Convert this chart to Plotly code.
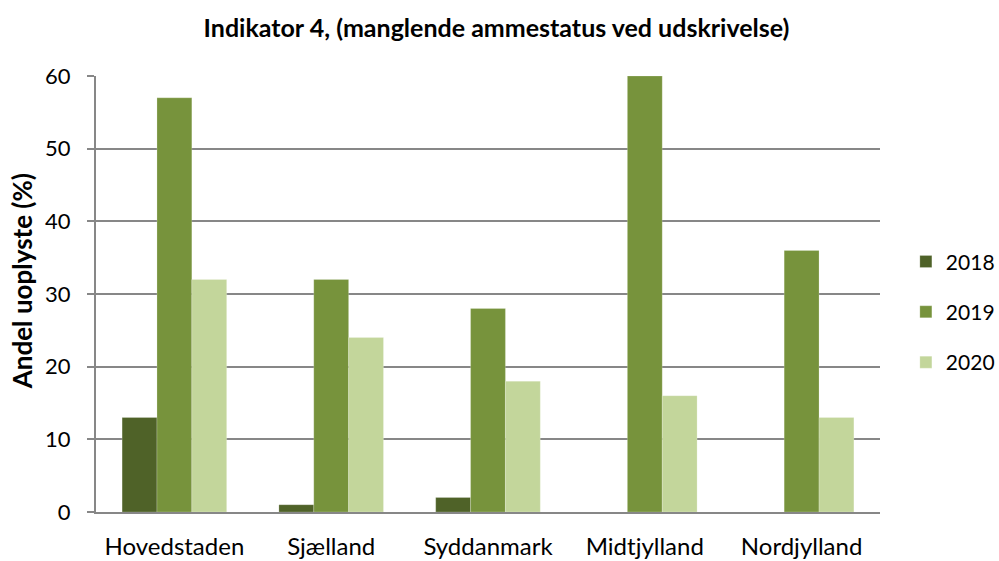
import plotly.graph_objects as go

regions = ["Hovedstaden", "Sjælland", "Syddanmark", "Midtjylland", "Nordjylland"]
years = ["2018", "2019", "2020"]
values_2018 = [13, 1, 2, 0, 0]
values_2019 = [57, 32, 28, 60, 36]
values_2020 = [32, 24, 18, 16, 13]
y_ticks = [0, 10, 20, 30, 40, 50, 60]

colors = ["#4F6228", "#77933C", "#C3D69B"]
series = [values_2018, values_2019, values_2020]

fig = go.Figure()
for year, vals, col in zip(years, series, colors):
    fig.add_trace(go.Bar(
        x=regions, y=vals, name=year, legendgroup=year,
        marker=dict(color=col, line=dict(color="rgba(255,255,255,0.35)", width=0.6)),
    ))

font = "Lato, 'Open Sans', sans-serif"
grid = "#878787"

fig.update_layout(
    width=999, height=561,
    margin=dict(l=96, r=119, t=76, b=49, autoexpand=False),
    paper_bgcolor="white", plot_bgcolor="white",
    barmode="group", bargap=0.333, bargroupgap=0,
    font=dict(family=font, color="black"),
    title=dict(text="<b>Indikator 4, (manglende ammestatus ved udskrivelse)</b>",
               x=0.497, xanchor="center", y=0.95, yanchor="middle",
               font=dict(size=25, family=font, color="black")),
    showlegend=True,
    legend=dict(x=1.033, xanchor="left", y=0.459, yanchor="middle",
                font=dict(size=21, family=font), tracegroupgap=20,
                itemwidth=30, bgcolor="rgba(0,0,0,0)"),
    xaxis=dict(showline=True, linecolor=grid, linewidth=2,
               tickfont=dict(size=24, family=font), ticks="", ticklen=0,
               ticklabelstandoff=12),
    yaxis=dict(range=[0, 60], tickvals=y_ticks, showgrid=True, gridcolor=grid, gridwidth=2,
               showline=True, linecolor=grid, linewidth=2,
               ticks="outside", ticklen=7, tickcolor=grid, tickwidth=2,
               tickfont=dict(size=22, family=font), zeroline=False,
               ticklabelstandoff=12),
    annotations=[dict(text="<b>Andel uoplyste (%)</b>", textangle=-90,
                      xref="paper", yref="paper", x=-0.094, y=0.53,
                      xanchor="center", yanchor="middle", showarrow=False,
                      font=dict(size=26, family=font, color="black"))],
)

fig.write_html("out.html")
